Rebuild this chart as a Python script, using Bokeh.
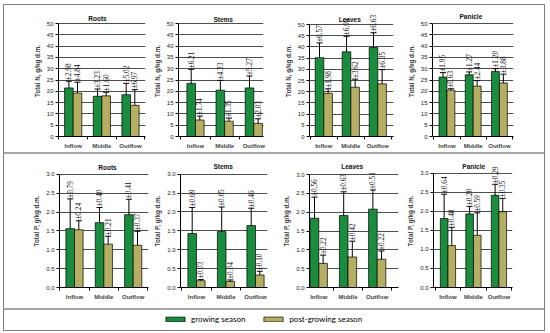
import math
from bokeh.plotting import figure
from bokeh.layouts import row, column
from bokeh.models import (Range1d, FixedTicker, ColumnDataSource, Whisker, TeeHead,
                          LabelSet, Label, Legend, LegendItem, NumeralTickFormatter,
                          GlobalInlineStyleSheet)
from bokeh.embed import file_html
from bokeh.resources import INLINE

# ---------------- data ----------------
categories = ["Inflow", "Middle", "Outflow"]
organs = ["Roots", "Stems", "Leaves", "Panicle"]
series_names = ["growing season", "post-growing season"]

# Total N, g/kg d.m.
n_roots_growing = [21.5, 17.8, 18.5]
n_roots_growing_err = [2.98, 3.23, 5.02]
n_roots_post = [19.2, 18.0, 13.8]
n_roots_post_err = [4.84, 1.60, 6.97]

n_stems_growing = [23.5, 20.5, 21.5]
n_stems_growing_err = [6.21, 4.33, 5.27]
n_stems_post = [7.3, 6.8, 5.8]
n_stems_post_err = [1.74, 1.35, 2.03]

n_leaves_growing = [35.2, 37.8, 39.7]
n_leaves_growing_err = [6.57, 6.95, 6.63]
n_leaves_post = [19.3, 22.0, 23.5]
n_leaves_post_err = [1.98, 3.62, 6.35]

n_panicle_growing = [26.3, 27.3, 28.8]
n_panicle_growing_err = [1.95, 1.27, 1.20]
n_panicle_post = [20.5, 22.3, 23.7]
n_panicle_post_err = [0.63, 2.44, 3.88]

# Total P, g/kg d.m.
p_roots_growing = [1.56, 1.72, 1.93]
p_roots_growing_err = [0.79, 0.40, 0.41]
p_roots_post = [1.53, 1.15, 1.12]
p_roots_post_err = [0.24, 0.21, 0.37]

p_stems_growing = [1.43, 1.48, 1.64]
p_stems_growing_err = [0.69, 0.65, 0.46]
p_stems_post = [0.18, 0.16, 0.33]
p_stems_post_err = [0.03, 0.04, 0.10]

p_leaves_growing = [1.84, 1.91, 2.08]
p_leaves_growing_err = [0.56, 0.63, 0.51]
p_leaves_post = [0.64, 0.81, 0.75]
p_leaves_post_err = [0.22, 0.42, 0.22]

p_panicle_growing = [1.81, 1.93, 2.42]
p_panicle_growing_err = [0.64, 0.20, 0.29]
p_panicle_post = [1.10, 1.37, 1.99]
p_panicle_post_err = [0.48, 0.59, 0.35]

n_ticks = [0, 5, 10, 15, 20, 25, 30, 35, 40, 45, 50]
p_ticks = [0.0, 0.5, 1.0, 1.5, 2.0, 2.5, 3.0]

# ---------------- style ----------------
GREEN = "#1a8c3e"
OLIVE = "#b6ae62"
FONT = "Liberation Sans"
GRID = "#4d4d4d"

# geometry (page px): fig x0, width, frame left, frame right, center1, center3,
#                     frame top, frame bottom, title x, title y
TOP_Y0, TOP_H = 5, 147
BOT_Y0, BOT_H = 154, 154
top_geo = [
    (4, 146, 58, 145, 72.7, 130.0, 24, 143, 97.0, 19.0),
    (150, 125, 178, 263, 195.0, 253.3, 23, 136, 222.7, 19.0),
    (275, 129, 309, 393, 323.3, 377.3, 24, 136, 349.3, 19.0),
    (404, 140, 425, 513, 440.7, 497.7, 23, 136, 466.7, 15.7),
]
bot_geo = [
    (4, 146, 59, 148, 74.0, 132.7, 174, 288, 107.0, 167.0),
    (150, 125, 180, 267, 196.0, 255.0, 174, 289, 222.7, 166.5),
    (275, 129, 309, 398, 318.3, 376.7, 174, 287, 351.7, 165.5),
    (404, 140, 423, 512, 439.3, 496.7, 173, 289, 468.3, 166.5),
]


def make_panel(title, ylabel, ticks, fmt, grow, grow_err, post, post_err, geo, y0, h):
    x0, w, fl, fr, c1, c3, ft, fb, tx, ty = geo
    s = (c3 - c1) / 2.0
    yend = ticks[-1]
    ppu = (fb - ft) / float(yend)
    xr = Range1d(0.5 - (c1 - fl) / s, 2.5 + (fr - c3) / s)
    yr = Range1d(0, yend + (ft - y0) / ppu)
    p = figure(width=w, height=h, x_range=xr, y_range=yr,
               output_backend="svg", toolbar_location=None,
               min_border_left=fl - x0, min_border_right=x0 + w - fr,
               min_border_top=0, min_border_bottom=y0 + h - fb)
    p.outline_line_color = None
    p.background_fill_color = "white"
    p.border_fill_color = "white"

    p.add_layout(Label(x=(tx - c1) / s + 0.5, y=yend + (ft - ty) / ppu, text=title,
                       text_align="center", text_baseline="middle",
                       text_font=FONT, text_font_size="6.5px", text_font_style="bold",
                       text_color="#111111"))

    bw = 8.6 / s
    xg = [i + 0.5 - bw / 2 for i in range(len(categories))]
    xp = [i + 0.5 + bw / 2 for i in range(len(categories))]

    p.vbar(x=xg, top=grow, width=bw, fill_color=GREEN, line_color="black", line_width=0.7)
    p.vbar(x=xp, top=post, width=bw, fill_color=OLIVE, line_color="black", line_width=0.7)

    for xs, vals, errs in ((xg, grow, grow_err), (xp, post, post_err)):
        src = ColumnDataSource(dict(
            x=xs, lower=[v - e for v, e in zip(vals, errs)],
            upper=[v + e for v, e in zip(vals, errs)],
            txt=["\u00b1%.2f" % e for e in errs]))
        wk = Whisker(source=src, base="x", lower="lower", upper="upper", dimension="height",
                     line_color="black", line_width=1,
                     upper_head=TeeHead(size=6, line_color="black", line_width=1),
                     lower_head=TeeHead(size=6, line_color="black", line_width=1))
        p.add_layout(wk)
        lab = LabelSet(source=src, x="x", y="upper", text="txt", angle=math.pi / 2,
                       text_align="left", text_baseline="middle", y_offset=1,
                       text_font=FONT, text_font_size="7.3px", text_color="#111111")
        p.add_layout(lab)

    # y axis
    p.yaxis.ticker = FixedTicker(ticks=ticks)
    p.yaxis.bounds = (0, yend)
    if fmt:
        p.yaxis.formatter = NumeralTickFormatter(format=fmt)
    p.yaxis.axis_label = ylabel
    p.yaxis.axis_label_text_font = FONT
    p.yaxis.axis_label_text_font_size = "6.3px"
    p.yaxis.axis_label_text_font_style = "bold"
    p.yaxis.axis_label_standoff = 3
    p.yaxis.major_label_text_font = FONT
    p.yaxis.major_label_text_font_size = "6px"
    p.yaxis.major_label_text_color = "#222222"
    p.yaxis.major_label_standoff = 2
    p.yaxis.major_tick_out = 3
    p.yaxis.major_tick_in = 0
    p.yaxis.minor_tick_out = 0
    p.yaxis.axis_line_color = "black"

    # x axis
    p.xaxis.ticker = FixedTicker(ticks=[0.5, 1.5, 2.5], minor_ticks=[0, 1, 2, 3])
    p.xaxis.major_label_overrides = {0.5: categories[0], 1.5: categories[1], 2.5: categories[2]}
    p.xaxis.major_tick_out = 0
    p.xaxis.major_tick_in = 0
    p.xaxis.minor_tick_out = 3
    p.xaxis.minor_tick_in = 0
    p.xaxis.major_label_text_font = FONT
    p.xaxis.major_label_text_font_size = "6px"
    p.xaxis.major_label_text_font_style = "bold"
    p.xaxis.major_label_standoff = 3
    p.xaxis.axis_line_color = "black"

    p.xgrid.visible = False
    p.ygrid.ticker = FixedTicker(ticks=ticks)
    p.ygrid.grid_line_color = GRID
    p.ygrid.grid_line_width = 1
    return p


n_data = [
    (n_roots_growing, n_roots_growing_err, n_roots_post, n_roots_post_err),
    (n_stems_growing, n_stems_growing_err, n_stems_post, n_stems_post_err),
    (n_leaves_growing, n_leaves_growing_err, n_leaves_post, n_leaves_post_err),
    (n_panicle_growing, n_panicle_growing_err, n_panicle_post, n_panicle_post_err),
]
p_data = [
    (p_roots_growing, p_roots_growing_err, p_roots_post, p_roots_post_err),
    (p_stems_growing, p_stems_growing_err, p_stems_post, p_stems_post_err),
    (p_leaves_growing, p_leaves_growing_err, p_leaves_post, p_leaves_post_err),
    (p_panicle_growing, p_panicle_growing_err, p_panicle_post, p_panicle_post_err),
]

top_figs = [make_panel(organs[i], "Total N, g/kg d.m.", n_ticks, None, *n_data[i],
                       top_geo[i], TOP_Y0, TOP_H) for i in range(4)]
bot_figs = [make_panel(organs[i], "Total P, g/kg d.m.", p_ticks, "0.0", *p_data[i],
                       bot_geo[i], BOT_Y0, BOT_H) for i in range(4)]

# legend strip
lf = figure(width=540, height=20, x_range=Range1d(0, 1), y_range=Range1d(0, 1),
            output_backend="svg", toolbar_location=None, min_border=0,
            x_axis_location=None, y_axis_location=None)
lf.outline_line_color = None
lf.xgrid.visible = False
lf.ygrid.visible = False
rg = lf.vbar(x=[5], top=[1], width=0.1, fill_color=GREEN, line_color="black", line_width=0.7)
rp = lf.vbar(x=[5], top=[1], width=0.1, fill_color=OLIVE, line_color="black", line_width=0.7)
leg = Legend(items=[LegendItem(label=series_names[0], renderers=[rg]),
                    LegendItem(label=series_names[1], renderers=[rp])],
             orientation="horizontal", location=(159, 6), padding=2, margin=0,
             spacing=16, glyph_width=24, glyph_height=6, label_standoff=4,
             label_text_font="Lato", label_text_font_size="8px",
             label_text_color="#000000", border_line_color=None,
             background_fill_alpha=0)
lf.add_layout(leg, "center")

page_css = GlobalInlineStyleSheet(css="html, body { margin: 0 !important; padding: 0 !important; }")
top = row(*top_figs, spacing=0, styles={"border-bottom": "2px solid #a6a6a6"})
bot = row(*bot_figs, spacing=0, styles={"border-bottom": "2px solid #a6a6a6"})
root = column(top, bot, lf, spacing=0, stylesheets=[page_css],
              styles={"border": "1px solid #7f7f7f", "margin-left": "3px", "margin-top": "4px"})

open("out.html", "w").write(file_html(root, INLINE))
